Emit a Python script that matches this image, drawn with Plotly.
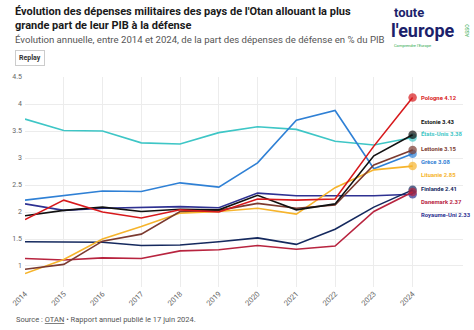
import plotly.graph_objects as go

years = list(range(2014, 2025))
year_labels = [str(y) for y in years]

countries = ["Pologne", "Estonie", "États-Unis", "Lettonie", "Grèce",
             "Lituanie", "Finlande", "Danemark", "Royaume-Uni"]

pologne = [1.86, 2.22, 2.00, 1.89, 2.04, 2.00, 2.24, 2.22, 2.24, 3.22, 4.12]
estonie = [1.93, 2.03, 2.09, 2.01, 2.05, 2.04, 2.31, 2.04, 2.15, 3.04, 3.43]
etats_unis = [3.72, 3.51, 3.50, 3.28, 3.26, 3.47, 3.58, 3.53, 3.31, 3.24, 3.38]
lettonie = [0.94, 1.03, 1.46, 1.59, 2.01, 2.03, 2.16, 2.07, 2.13, 2.87, 3.15]
grece = [2.22, 2.31, 2.39, 2.38, 2.54, 2.46, 2.91, 3.70, 3.88, 2.80, 3.08]
lituanie = [0.86, 1.12, 1.50, 1.73, 1.98, 2.01, 2.07, 1.96, 2.45, 2.78, 2.85]
finlande = [1.45, 1.45, 1.44, 1.38, 1.39, 1.45, 1.52, 1.40, 1.68, 2.09, 2.41]
danemark = [1.14, 1.11, 1.15, 1.14, 1.28, 1.30, 1.38, 1.31, 1.37, 2.01, 2.37]
royaume_uni = [2.15, 2.03, 2.07, 2.09, 2.10, 2.08, 2.35, 2.30, 2.30, 2.30, 2.33]

series = [pologne, estonie, etats_unis, lettonie, grece,
          lituanie, finlande, danemark, royaume_uni]

colors = ["#d7191c", "#111111", "#3ec6c6", "#7b3a30", "#2f80d5",
          "#f6b42c", "#15295e", "#b8243f", "#2e3192"]
# label vertical pixel offsets to avoid overlap (layout only)
label_shift = [0, 13, 3, 1, -8, -9, 1, -10, -21]

FONT = "Roboto"
PL, PR, PT, PB = 16, 11, 77, 43
W = 474 - PL - PR
H = 330 - PT - PB


def fx(px):
    return (px - PL) / W


def fy(py):
    return (330 - PB - py) / H


fig = go.Figure()

order = [2, 4, 8, 6, 7, 5, 3, 1, 0]
for i in order:
    vals = series[i]
    sizes = [0] * (len(vals) - 1) + [8.5]
    fig.add_trace(go.Scatter(
        x=years, y=vals, mode="lines+markers", name=countries[i],
        line=dict(color=colors[i], width=1.6),
        marker=dict(size=sizes, color=colors[i], line=dict(width=0)),
        showlegend=False, hoverinfo="skip"))

for i, name in enumerate(countries):
    fig.add_annotation(
        x=years[-1], y=series[i][-1], xref="x", yref="y",
        text=f"<b>{name} {series[i][-1]:.2f}</b>",
        showarrow=False, xanchor="left", yanchor="middle",
        xshift=6, yshift=label_shift[i],
        font=dict(family=FONT, size=5.9, color=colors[i]))

fig.update_layout(
    width=474, height=330,
    margin=dict(l=PL, r=PR, t=PT, b=PB),
    paper_bgcolor="white", plot_bgcolor="white",
    font=dict(family=FONT, color="#333"),
    xaxis=dict(range=[2014, 2025.3], tickmode="array", tickvals=years,
               ticktext=year_labels, tickangle=-45,
               tickfont=dict(size=7.5, color="#666"),
               showgrid=True, gridcolor="#ececec", gridwidth=1,
               zeroline=False, showline=False, ticks=""),
    yaxis=dict(range=[0.611, 4.5], tickmode="array",
               tickvals=[1, 1.5, 2, 2.5, 3, 3.5, 4, 4.5],
               ticktext=["1", "1.5", "2", "2.5", "3", "3.5", "4", "4.5"],
               tickfont=dict(size=7, color="#666"),
               showgrid=True, gridcolor="#ececec", gridwidth=1,
               zeroline=False, showline=False, ticks="", ticklabelstandoff=2),
)

fig.add_annotation(
    x=fx(4), y=fy(3), xref="paper", yref="paper", xanchor="left", yanchor="top",
    text="<b>Évolution des dépenses militaires des pays de l'Otan allouant la plus<br>grande part de leur PIB à la défense</b>",
    showarrow=False, align="left",
    font=dict(family=FONT, size=11, color="#1a1a1a"))
fig.add_annotation(
    x=fx(4), y=fy(32), xref="paper", yref="paper", xanchor="left", yanchor="top",
    text="Évolution annuelle, entre 2014 et 2024, de la part des dépenses de défense en % du PIB",
    showarrow=False, align="left",
    font=dict(family=FONT, size=9.6, color="#555"))
fig.add_annotation(
    x=fx(6), y=fy(50), xref="paper", yref="paper", xanchor="left", yanchor="top",
    text="<b>Replay</b>", showarrow=False,
    bordercolor="#cccccc", borderwidth=1, borderpad=3, bgcolor="white",
    font=dict(family=FONT, size=7, color="#333"))
fig.add_annotation(
    x=fx(5), y=fy(313), xref="paper", yref="paper", xanchor="left", yanchor="top",
    text="Source : <u>OTAN</u> • Rapport annuel publié le 17 juin 2024.",
    showarrow=False, align="left",
    font=dict(family=FONT, size=7.5, color="#555"))

# logo
fig.add_annotation(
    x=fx(392), y=fy(4), xref="paper", yref="paper", xanchor="left", yanchor="top",
    text="<b>toute</b>", showarrow=False, borderpad=0,
    font=dict(family=FONT, size=13, color="#1c1f6b"))
fig.add_annotation(
    x=fx(389), y=fy(19), xref="paper", yref="paper", xanchor="left", yanchor="top",
    text="<b>l'europe</b>", showarrow=False, borderpad=0,
    font=dict(family=FONT, size=18, color="#1c1f6b"))
fig.add_annotation(
    x=fx(392), y=fy(42), xref="paper", yref="paper", xanchor="left", yanchor="top",
    text="Comprendre l'Europe", showarrow=False, borderpad=0,
    font=dict(family=FONT, size=4, color="#2aa84a"))
fig.add_annotation(
    x=fx(467), y=fy(30), xref="paper", yref="paper", xanchor="center", yanchor="middle",
    text="ASSO", showarrow=False, textangle=-90,
    font=dict(family=FONT, size=5, color="#2aa84a"))

fig.write_html("out.html")
